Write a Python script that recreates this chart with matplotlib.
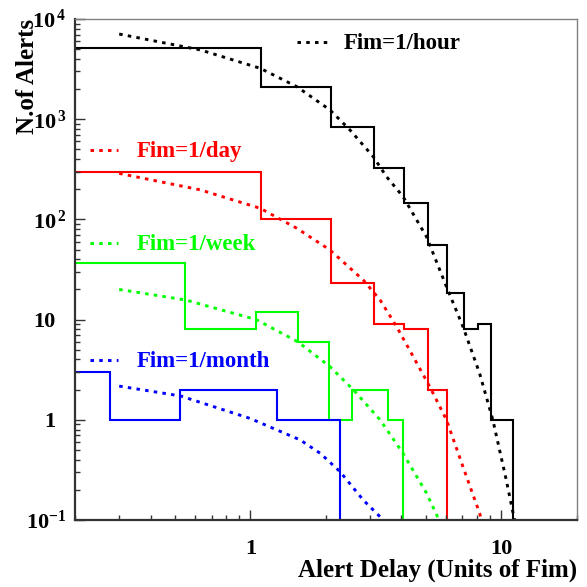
import matplotlib
matplotlib.use("Agg")
from matplotlib import pyplot as plt
from matplotlib import ticker
from matplotlib.transforms import ScaledTranslation

plt.rcParams['font.family'] = 'Liberation Serif'
plt.rcParams['font.weight'] = 'bold'
plt.rcParams['mathtext.fontset'] = 'custom'
plt.rcParams['mathtext.rm'] = 'Liberation Serif:bold'
plt.rcParams['mathtext.bf'] = 'Liberation Serif:bold'
plt.rcParams['mathtext.it'] = 'Liberation Serif:bold'

# histograms (bin edges, counts)
hour_edges = [0.1, 1.1, 2.1, 3.1, 4.1, 5.1, 6.1, 7.1, 8.1, 9.1, 10.1, 11.1]
hour_counts = [5100, 2080, 830, 324, 145, 55.6, 18.3, 8.0, 9.0, 1, 1]
day_edges = [0.1, 1.1, 2.1, 3.1, 4.1, 5.1, 6.1]
day_counts = [300, 100, 23, 9, 8, 2]
week_edges = [0.05, 0.55, 1.05, 1.55, 2.05, 2.55, 3.05, 3.55, 4.05]
week_counts = [37, 8, 12, 6, 1, 2, 2, 1]
month_edges = [0.025, 0.275, 0.525, 0.775, 1.025, 1.275, 1.525, 1.775, 2.025, 2.275]
month_counts = [3, 1, 2, 2, 2, 1, 1, 1, 1]

# expected curves (dotted)
hour_fx = [0.30, 0.633, 1.096, 1.533, 2.078, 2.496, 3.09, 3.49, 4.06, 5.04, 6.05, 7.04, 8.20, 9.26, 10.47, 11.3]
hour_fy = [7080, 4910, 3220, 2110, 1236, 780, 423, 267, 169, 67, 21.3, 8.5, 2.91, 1.0, 0.252, 0.1]
day_fx = [0.30, 0.633, 1.096, 1.533, 2.078, 2.82, 3.29, 3.83, 4.46, 5.19, 6.05, 7.04, 8.20, 8.35]
day_fy = [288, 197, 129, 81.5, 49.5, 24.8, 15.7, 8.5, 4.27, 2.14, 1.0, 0.34, 0.117, 0.1]
week_fx = [0.30, 0.552, 1.056, 1.547, 2.078, 2.57, 3.29, 4.06, 5.04, 5.65]
week_fy = [20.0, 15.7, 10.0, 6.0, 3.39, 2.0, 1.0, 0.463, 0.185, 0.1]
month_fx = [0.30, 0.527, 1.0, 1.58, 1.90, 2.28, 2.82, 3.39]
month_fy = [2.17, 1.73, 1.03, 0.63, 0.463, 0.303, 0.158, 0.1]

labels = ['Fim=1/hour', 'Fim=1/day', 'Fim=1/week', 'Fim=1/month']
colors = ['black', '#ff0000', '#00ff00', '#0000ff']

ytick_vals = [0.1, 1, 10, 100, 1000, 10000]
ytick_labels = [r'$\mathbf{10^{-1}}$', '1', '10', r'$\mathbf{10^{\,2}}$',
                r'$\mathbf{10^{\,3}}$', r'$\mathbf{10^{\,4}}$']
xtick_vals = [1, 10]
xtick_labels = ['1', '10']

fig = plt.figure(figsize=(5.87, 5.87), dpi=100)
ax = fig.add_axes([0.1278, 0.1141, 0.8547, 0.8535])
ax.set_xscale('log')
ax.set_yscale('log')
ax.set_xlim(0.2, 20)
ax.set_ylim(0.1, 1e4)

dots = (0, (1.2, 1.8))
hists = [(hour_edges, hour_counts), (day_edges, day_counts),
         (week_edges, week_counts), (month_edges, month_counts)]
curves = [(hour_fx, hour_fy), (day_fx, day_fy), (week_fx, week_fy), (month_fx, month_fy)]
for (edges, counts), (fx, fy), c in zip(hists, curves, colors):
    ax.stairs(counts, edges, baseline=0.1, color=c, lw=1.5)
    ax.plot(fx, fy, color=c, lw=2.1, linestyle=dots)

# legend entries spread over the pad
leg_pos = [(0.442, 0.502, 0.955, 0.535, 0.9395),
           (0.030, 0.086, 0.7385, 0.123, 0.7246),
           (0.030, 0.086, 0.5523, 0.123, 0.539),
           (0.030, 0.086, 0.3194, 0.123, 0.3048)]
for (x0, x1, ly, tx, ty), lab, c in zip(leg_pos, labels, colors):
    ax.plot([x0, x1], [ly, ly], color=c, lw=2.1, linestyle=dots, transform=ax.transAxes)
    ax.text(tx, ty, lab, color=c, fontsize=16.5, fontweight='bold',
            transform=ax.transAxes, va='baseline', ha='left')

ax.set_yticks(ytick_vals)
ax.set_yticklabels(ytick_labels)
ax.set_xticks(xtick_vals)
ax.set_xticklabels(xtick_labels)
ax.xaxis.set_minor_formatter(ticker.NullFormatter())
ax.yaxis.set_minor_formatter(ticker.NullFormatter())
ax.tick_params(which='both', direction='in', top=False, right=False,
               width=1, color='#333333', labelsize=16)
ax.tick_params(which='major', length=7.2)
ax.tick_params(which='minor', length=3.6)
ax.tick_params(axis='y', pad=14)
ax.tick_params(axis='x', pad=14)

# shift the power-of-ten labels so the mantissa lines up
for lab in ax.get_yticklabels():
    if '^' in lab.get_text():
        lab.set_transform(lab.get_transform() + ScaledTranslation(11 / 100, 0, fig.dpi_scale_trans))

for s in ['left', 'bottom']:
    ax.spines[s].set_linewidth(1.6)
    ax.spines[s].set_color('#333333')
for s in ['top', 'right']:
    ax.spines[s].set_linewidth(1.0)
    ax.spines[s].set_color('#808080')

fig.text(0.9825, 0.029, 'Alert Delay (Units of Fim)', ha='right', va='center',
         fontsize=18, fontweight='bold')
fig.text(0.046, 0.9676, 'N.of Alerts', ha='center', va='top', rotation=90,
         fontsize=18, fontweight='bold')

fig.savefig('out.png', dpi=100)
